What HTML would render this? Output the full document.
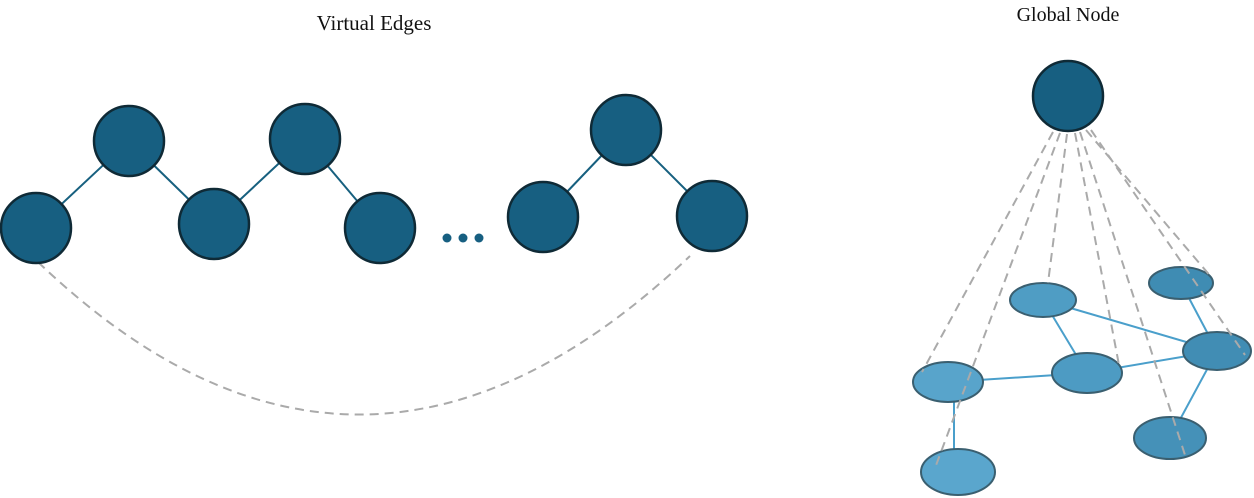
<!DOCTYPE html>
<html><head><meta charset="utf-8"><style>
html,body{margin:0;padding:0;background:#fff;width:1254px;height:498px;overflow:hidden}
</style></head><body>
<svg width="1254" height="498" viewBox="0 0 1254 498" xmlns="http://www.w3.org/2000/svg">
<text x="374" y="30" font-family="Liberation Serif, serif" font-size="21" text-anchor="middle" fill="#111">Virtual Edges</text>
<text x="1068" y="21" font-family="Liberation Serif, serif" font-size="20" text-anchor="middle" fill="#111">Global Node</text>
<g stroke="#17607f" stroke-width="2">
<line x1="36" y1="228" x2="129" y2="141"/><line x1="129" y1="141" x2="214" y2="224"/>
<line x1="214" y1="224" x2="305" y2="139"/><line x1="305" y1="139" x2="380" y2="228"/>
<line x1="543" y1="217" x2="626" y2="130"/><line x1="626" y1="130" x2="712" y2="216"/>
</g>
<path d="M38 262 Q360 570 690 256" fill="none" stroke="#aaa" stroke-width="2" stroke-dasharray="9,6"/>
<g fill="#175f81" stroke="#0f2a36" stroke-width="2.5">
<circle cx="36" cy="228" r="35"/><circle cx="129" cy="141" r="35"/><circle cx="214" cy="224" r="35"/>
<circle cx="305" cy="139" r="35"/><circle cx="380" cy="228" r="35"/>
<circle cx="543" cy="217" r="35"/><circle cx="626" cy="130" r="35"/><circle cx="712" cy="216" r="35"/>
<circle cx="1068" cy="96" r="35"/>
</g>
<g fill="#175f81"><circle cx="447" cy="238" r="4.5"/><circle cx="463" cy="238" r="4.5"/><circle cx="479" cy="238" r="4.5"/></g>
<g stroke="#4a9fcb" stroke-width="2">
<line x1="1043" y1="300" x2="1087" y2="373"/><line x1="1043" y1="300" x2="1217" y2="351"/>
<line x1="948" y1="382" x2="1087" y2="373"/><line x1="1087" y1="373" x2="1217" y2="351"/>
<line x1="954" y1="382" x2="954" y2="472"/><line x1="1181" y1="283" x2="1217" y2="351"/>
<line x1="1217" y1="351" x2="1170" y2="438"/>
</g>
<g fill="#4f9ec4" stroke="#3a5f70" stroke-width="2">
<ellipse cx="948" cy="382" rx="35" ry="20" fill="#58a4cb"/>
<ellipse cx="958" cy="472" rx="37" ry="23" fill="#5aa6cd"/>
<ellipse cx="1043" cy="300" rx="33" ry="17" fill="#4f9dc4"/>
<ellipse cx="1087" cy="373" rx="35" ry="20" fill="#4d9bc3"/>
<ellipse cx="1181" cy="283" rx="32" ry="16" fill="#3f8cb3"/>
<ellipse cx="1217" cy="351" rx="34" ry="19" fill="#418db4"/>
<ellipse cx="1170" cy="438" rx="36" ry="21" fill="#4591b8"/>
</g>
<g stroke="#aaa" stroke-width="2" stroke-dasharray="9,6" fill="none">
<line x1="1053" y1="132" x2="922" y2="372"/>
<line x1="1060" y1="133" x2="935" y2="468"/>
<line x1="1067" y1="134" x2="1048" y2="283"/>
<line x1="1075" y1="133" x2="1119" y2="365"/>
<line x1="1080" y1="132" x2="1185" y2="455"/>
<line x1="1086" y1="130" x2="1212" y2="278"/>
<line x1="1091" y1="130" x2="1245" y2="355"/>
</g>
</svg>
</body></html>
